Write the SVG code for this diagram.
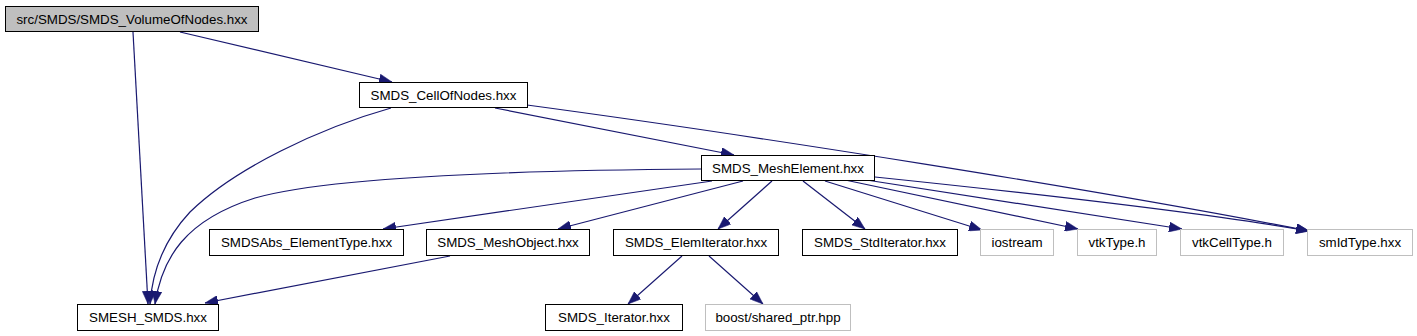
<svg xmlns="http://www.w3.org/2000/svg" width="1417" height="336" viewBox="0 0 1417 336">
<style>
.n rect{fill:#fff;stroke:#000;stroke-width:1}
.r rect{fill:#bfbfbf;stroke:#000;stroke-width:1}
.g rect{fill:#fff;stroke:#bfbfbf;stroke-width:1}
text{font-family:"Liberation Sans",Arial,sans-serif;font-size:13.33px;fill:#000;text-anchor:middle}
.e path{fill:none;stroke:#191970;stroke-width:1.2;marker-end:url(#ah)}
</style>
<defs>
<marker id="ah" markerUnits="userSpaceOnUse" markerWidth="13" markerHeight="10" refX="13" refY="5" orient="auto" viewBox="0 0 13 10">
<path d="M0,0 L13,5 L0,10 z" fill="#191970" stroke="#191970" stroke-width="0.5"/>
</marker>
</defs>
<g id="edges" class="e">
<path d="M180,32 L392,82"/>
<path d="M133,32 L148,304"/>
<path d="M391,108 C320,128 235,168 190,212 C162,242 152,275 150,304"/>
<path d="M495,108 L734,155"/>
<path d="M527,105 C750,135 1100,190 1309,231"/>
<path d="M701,169 C560,170 340,174 255,198 C185,220 162,258 155,304"/>
<path d="M712,181 L383,229"/>
<path d="M743,181 L558,229"/>
<path d="M772,181 L718,229"/>
<path d="M803,181 L865,229"/>
<path d="M825,181 L982,230"/>
<path d="M845,180 L1078,229"/>
<path d="M860,179 L1182,229"/>
<path d="M875,177 C1000,190 1200,212 1309,231"/>
<path d="M450,256 L205,303"/>
<path d="M682,256 L628,304"/>
<path d="M709,256 L763,304"/>
</g>
<g id="root" class="r"><rect x="5.5" y="6.5" width="253" height="25"/><text x="132" y="23.5">src/SMDS/SMDS_VolumeOfNodes.hxx</text></g>
<g id="cellofnodes" class="n"><rect x="359.5" y="82.5" width="168" height="25"/><text x="443.5" y="99.5">SMDS_CellOfNodes.hxx</text></g>
<g id="meshelement" class="n"><rect x="701.5" y="155.5" width="173" height="25"/><text x="788" y="172.5">SMDS_MeshElement.hxx</text></g>
<g id="smesh_smds" class="n"><rect x="77.5" y="304.5" width="141" height="26"/><text x="148" y="322">SMESH_SMDS.hxx</text></g>
<g id="elementtype" class="n"><rect x="209.5" y="229.5" width="194" height="26"/><text x="306.5" y="247">SMDSAbs_ElementType.hxx</text></g>
<g id="meshobject" class="n"><rect x="426.5" y="229.5" width="163" height="26"/><text x="508" y="247">SMDS_MeshObject.hxx</text></g>
<g id="elemiterator" class="n"><rect x="613.5" y="229.5" width="165" height="26"/><text x="696" y="247">SMDS_ElemIterator.hxx</text></g>
<g id="stditerator" class="n"><rect x="802.5" y="229.5" width="155" height="26"/><text x="880" y="247">SMDS_StdIterator.hxx</text></g>
<g id="iostream" class="g"><rect x="980.5" y="229.5" width="73" height="26"/><text x="1017" y="247">iostream</text></g>
<g id="vtktype" class="g"><rect x="1077.5" y="229.5" width="79" height="26"/><text x="1117" y="247">vtkType.h</text></g>
<g id="vtkcelltype" class="g"><rect x="1180.5" y="229.5" width="103" height="26"/><text x="1232" y="247">vtkCellType.h</text></g>
<g id="smidtype" class="g"><rect x="1307.5" y="229.5" width="105" height="26"/><text x="1360" y="247">smIdType.hxx</text></g>
<g id="iterator" class="n"><rect x="545.5" y="304.5" width="137" height="26"/><text x="614" y="322">SMDS_Iterator.hxx</text></g>
<g id="sharedptr" class="g"><rect x="705.5" y="304.5" width="145" height="26"/><text x="778" y="322">boost/shared_ptr.hpp</text></g>
</svg>
